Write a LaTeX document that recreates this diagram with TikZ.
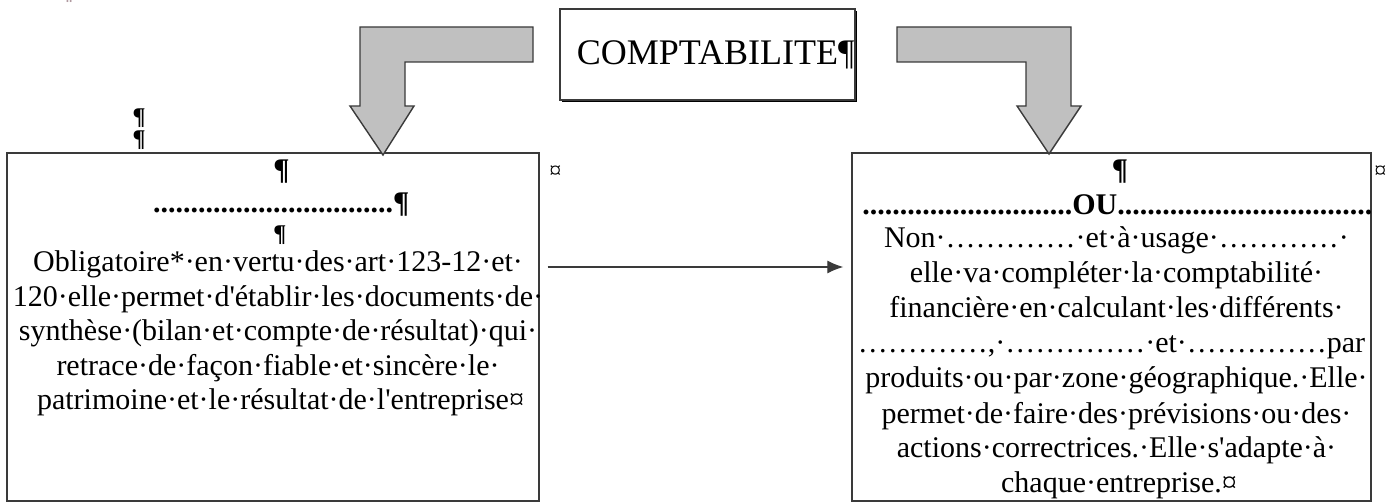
\documentclass[tikz,border=0pt]{standalone}
\usepackage{fontspec}
\setmainfont{Liberation Serif}[Ligatures=TeXOff]
\usepackage{tikz}
\usetikzlibrary{arrows.meta, positioning, calc, shadows, decorations.pathmorphing}
\definecolor{flechegris}{HTML}{C0C0C0}
\definecolor{bordgris}{HTML}{3A3A3A}
\definecolor{vertmot}{HTML}{3DA53D}
\definecolor{marquegris}{HTML}{B09AA0}

\newlength{\avantmot}
\newlength{\largmot}
% points de suspension espaces (une ligne a remplir)
\newcommand{\pts}[1]{\foreach \k in {1,...,#1}{\hbox to 5pt{\hss.\hss}}}

\tikzset{
  cadre/.style={draw=bordgris, line width=0.7pt, inner sep=0pt},
  corps/.style={font=\fontsize{15}{17}\selectfont, anchor=base, inner sep=0pt},
  gras/.style={font=\fontsize{15}{17}\selectfont\bfseries, anchor=base, inner sep=0pt},
  marque/.style={font=\fontsize{12}{14}\selectfont\bfseries, anchor=base, inner sep=0pt},
  flechebloc/.style={fill=flechegris, draw=bordgris, line width=0.7pt, line join=miter},
  ondule/.style={vertmot, line width=0.5pt, decorate,
    decoration={snake, segment length=2.2pt, amplitude=0.7pt}},
}

\begin{document}
\begin{tikzpicture}[x=0.5pt, y=-0.5pt]
    \useasboundingbox (0,0) rectangle (1399,502);
    % Titre
    \node[cadre, minimum width=147.5pt, minimum height=45.5pt, fill=white,
      font=\fontsize{18}{20}\selectfont,
      drop shadow={shadow xshift=1pt, shadow yshift=-1pt, fill=black, opacity=1}]
      (compta) at (707.5,54.5) {COMPTABILITE\rlap{¶}};
    % Cadres
    \node[cadre, minimum width=266pt, minimum height=174pt] (gauche) at (273,327) {};
    \node[cadre, minimum width=259.5pt, minimum height=174pt] (droite) at (1111.5,327) {};
    % Fleches en L
    \draw[flechebloc] (533,27) -- (360,27) -- (360,106) -- (350,106) -- (383,155)
      -- (414,106) -- (405,106) -- (405,62) -- (533,62) -- cycle;
    \draw[flechebloc] (897,27) -- (1071,27) -- (1071,106) -- (1081,106) -- (1049,154)
      -- (1017,106) -- (1026,106) -- (1026,62) -- (897,62) -- cycle;
    % Fleche entre les cadres
    \draw[-{Latex[length=8pt, width=6.5pt]}, line width=0.6pt, bordgris]
      ([shift={(8,-60)}]gauche.east) -- ([shift={(-8,-60)}]droite.west);
    % Marques de paragraphe
    \node[marque, text=marquegris] (haut) at (67,0) {¶};
    \node[marque] (p1) at (139,125) {¶};
    \node[marque] (p2) at (139,147) {¶};
    \node[marque, anchor=base west, font=\fontsize{12}{14}\selectfont] (finG) at (549,179) {¤};
    \node[marque, anchor=base west, font=\fontsize{12}{14}\selectfont] (finD) at (1374,179) {¤};
    % Cadre de gauche
    \node[gras, anchor=base west] (g-pied) at (gauche.center |- 0,180) {¶};
    \node[gras] (g-points) at (gauche.center |- 0,213) {................................\rlap{¶}};
    \node[marque, anchor=base west] (g-vide) at (gauche.center |- 0,242) {¶};
    \foreach \ligne [count=\i from 0] in {
      {Obligatoire*·en·vertu·des·art·123-12·et\rlap{·}},
      {120·elle·permet·d'établir·les·documents·de\rlap{·}},
      {synthèse·(bilan·et·compte·de·résultat)·qui\rlap{·}},
      {retrace·de·façon·fiable·et·sincère·le\rlap{·}},
      {patrimoine·et·le·résultat·de·l'entreprise\rlap{¤}}}
      \node[corps] (g\i) at (273,{272+34.5*\i}) {\ligne};
    % "des art" souligne en vert
    \settowidth{\avantmot}{\fontsize{15}{17}\selectfont Obligatoire*·en·vertu·}
    \settowidth{\largmot}{\fontsize{15}{17}\selectfont des·art}
    \draw[ondule] ([shift={(\avantmot,-2.5pt)}]g0.base west)
      -- ([shift={(\avantmot+\largmot,-2.5pt)}]g0.base west);
    % Cadre de droite
    \node[gras, anchor=base west] (d-pied) at (droite.center |- 0,180) {¶};
    \begin{scope}
      \clip (droite.north west) rectangle (droite.south east);
      \node[gras, anchor=base west] (d-ou) at (862,215)
        {............................OU....................................};
    \end{scope}
    \foreach \ligne [count=\i from 0] in {
      {Non·\pts{13}·et·à·usage·\pts{12}\rlap{·}},
      {elle·va·compléter·la·comptabilité\rlap{·}},
      {financière·en·calculant·les·différents\rlap{·}},
      {\pts{13},·\pts{14}·et·\pts{14}par},
      {produits·ou·par·zone·géographique.·Elle\rlap{·}},
      {permet·de·faire·des·prévisions·ou·des\rlap{·}},
      {actions·correctrices.·Elle·s'adapte·à\rlap{·}},
      {chaque·entreprise.\rlap{¤}}}
      \node[corps] (d\i) at (1111.5,{248+35*\i}) {\ligne};
\end{tikzpicture}
\end{document}
